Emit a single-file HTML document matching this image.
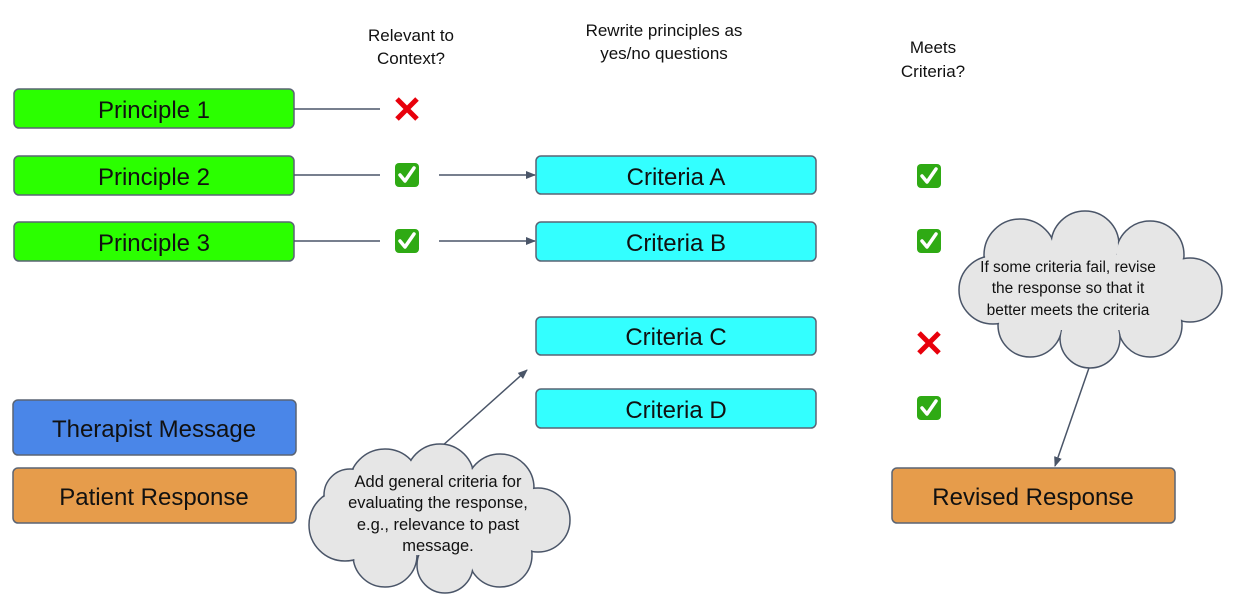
<!DOCTYPE html>
<html><head><style>
body{margin:0;background:#fff}
svg{display:block}
text{font-family:"Liberation Sans",sans-serif;fill:#111}
</style></head><body>
<svg width="1235" height="602" viewBox="0 0 1235 602" xmlns="http://www.w3.org/2000/svg">
<defs>
<marker id="a" markerWidth="10" markerHeight="10" refX="9" refY="5" orient="auto" markerUnits="userSpaceOnUse"><path d="M0,1 L10,5 L0,9 Z" fill="#4a5568"/></marker>
<g id="chk"><rect x="0" y="0" width="24" height="24" rx="4" fill="#2faa14"/><path d="M5,12 L10,18 L19,5" stroke="#fff" stroke-width="3.5" fill="none" stroke-linecap="round" stroke-linejoin="round"/></g>
<g id="x"><path d="M2,2 L22,22 M22,2 L2,22" stroke="#e8000b" stroke-width="5"/></g>
</defs>
<g font-size="17" text-anchor="middle">
<text x="411" y="41">Relevant to</text><text x="411" y="64">Context?</text>
<text x="664" y="36">Rewrite principles as</text><text x="664" y="59">yes/no questions</text>
<text x="933" y="53">Meets</text><text x="933" y="77">Criteria?</text>
</g>
<g stroke="#5a6474" stroke-width="1.5">
<rect x="14" y="89" width="280" height="39" rx="5" fill="#2bff00"/>
<rect x="14" y="156" width="280" height="39" rx="5" fill="#2bff00"/>
<rect x="14" y="222" width="280" height="39" rx="5" fill="#2bff00"/>
<rect x="536" y="156" width="280" height="38" rx="5" fill="#33ffff"/>
<rect x="536" y="222" width="280" height="39" rx="5" fill="#33ffff"/>
<rect x="536" y="317" width="280" height="38" rx="5" fill="#33ffff"/>
<rect x="536" y="389" width="280" height="39" rx="5" fill="#33ffff"/>
<rect x="13" y="400" width="283" height="55" rx="5" fill="#4a86e8"/>
<rect x="13" y="468" width="283" height="55" rx="5" fill="#e69c4b"/>
<rect x="892" y="468" width="283" height="55" rx="5" fill="#e69c4b"/>
</g>
<g font-size="24" text-anchor="middle">
<text x="154" y="118">Principle 1</text>
<text x="154" y="185">Principle 2</text>
<text x="154" y="251">Principle 3</text>
<text x="676" y="185">Criteria A</text>
<text x="676" y="251">Criteria B</text>
<text x="676" y="345">Criteria C</text>
<text x="676" y="418">Criteria D</text>
<text x="154" y="437">Therapist Message</text>
<text x="154" y="505">Patient Response</text>
<text x="1033" y="505">Revised Response</text>
</g>
<g stroke="#4a5568" stroke-width="1.5" fill="none">
<line x1="294" y1="109" x2="380" y2="109"/>
<line x1="294" y1="175" x2="380" y2="175"/>
<line x1="294" y1="241" x2="380" y2="241"/>
<line x1="439" y1="175" x2="535" y2="175" marker-end="url(#a)"/>
<line x1="439" y1="241" x2="535" y2="241" marker-end="url(#a)"/>
<line x1="432" y1="455" x2="527" y2="370" marker-end="url(#a)"/>
<line x1="1090" y1="365" x2="1055" y2="466" marker-end="url(#a)"/>
</g>
<use href="#x" x="395" y="97"/>
<use href="#chk" x="395" y="163"/>
<use href="#chk" x="395" y="229"/>
<use href="#chk" x="917" y="164"/>
<use href="#chk" x="917" y="229"/>
<use href="#x" x="917" y="331"/>
<use href="#chk" x="917" y="396"/>
<g fill="#e6e6e6" stroke="#4a5568" stroke-width="1.5">
<circle cx="385" cy="485" r="36"/><circle cx="440" cy="478" r="34"/><circle cx="500" cy="488" r="34"/>
<circle cx="538" cy="520" r="32"/><circle cx="500" cy="555" r="32"/><circle cx="445" cy="565" r="28"/>
<circle cx="385" cy="555" r="32"/><circle cx="345" cy="525" r="36"/><circle cx="350" cy="495" r="26"/>
</g>
<g fill="#e6e6e6">
<circle cx="385" cy="485" r="35"/><circle cx="440" cy="478" r="33"/><circle cx="500" cy="488" r="33"/>
<circle cx="538" cy="520" r="31"/><circle cx="500" cy="555" r="31"/><circle cx="445" cy="565" r="27"/>
<circle cx="385" cy="555" r="31"/><circle cx="345" cy="525" r="35"/><circle cx="350" cy="495" r="25"/>
<rect x="360" y="490" width="160" height="65"/>
</g>
<g font-size="16.5" text-anchor="middle">
<text x="438" y="487">Add general criteria for</text>
<text x="438" y="508">evaluating the response,</text>
<text x="438" y="530">e.g., relevance to past</text>
<text x="438" y="551">message.</text>
</g>
<g fill="#e6e6e6" stroke="#4a5568" stroke-width="1.5">
<circle cx="1020" cy="255" r="36"/><circle cx="1085" cy="245" r="34"/><circle cx="1150" cy="255" r="34"/>
<circle cx="1190" cy="290" r="32"/><circle cx="1150" cy="325" r="32"/><circle cx="1090" cy="338" r="30"/>
<circle cx="1030" cy="325" r="32"/><circle cx="993" cy="290" r="34"/>
</g>
<g fill="#e6e6e6">
<circle cx="1020" cy="255" r="35"/><circle cx="1085" cy="245" r="33"/><circle cx="1150" cy="255" r="33"/>
<circle cx="1190" cy="290" r="31"/><circle cx="1150" cy="325" r="31"/><circle cx="1090" cy="338" r="29"/>
<circle cx="1030" cy="325" r="31"/><circle cx="993" cy="290" r="33"/>
<rect x="1000" y="255" width="180" height="75"/>
</g>
<g font-size="15.5" text-anchor="middle">
<text x="1068" y="272">If some criteria fail, revise</text>
<text x="1068" y="293">the response so that it</text>
<text x="1068" y="315">better meets the criteria</text>
</g>
</svg>
</body></html>
